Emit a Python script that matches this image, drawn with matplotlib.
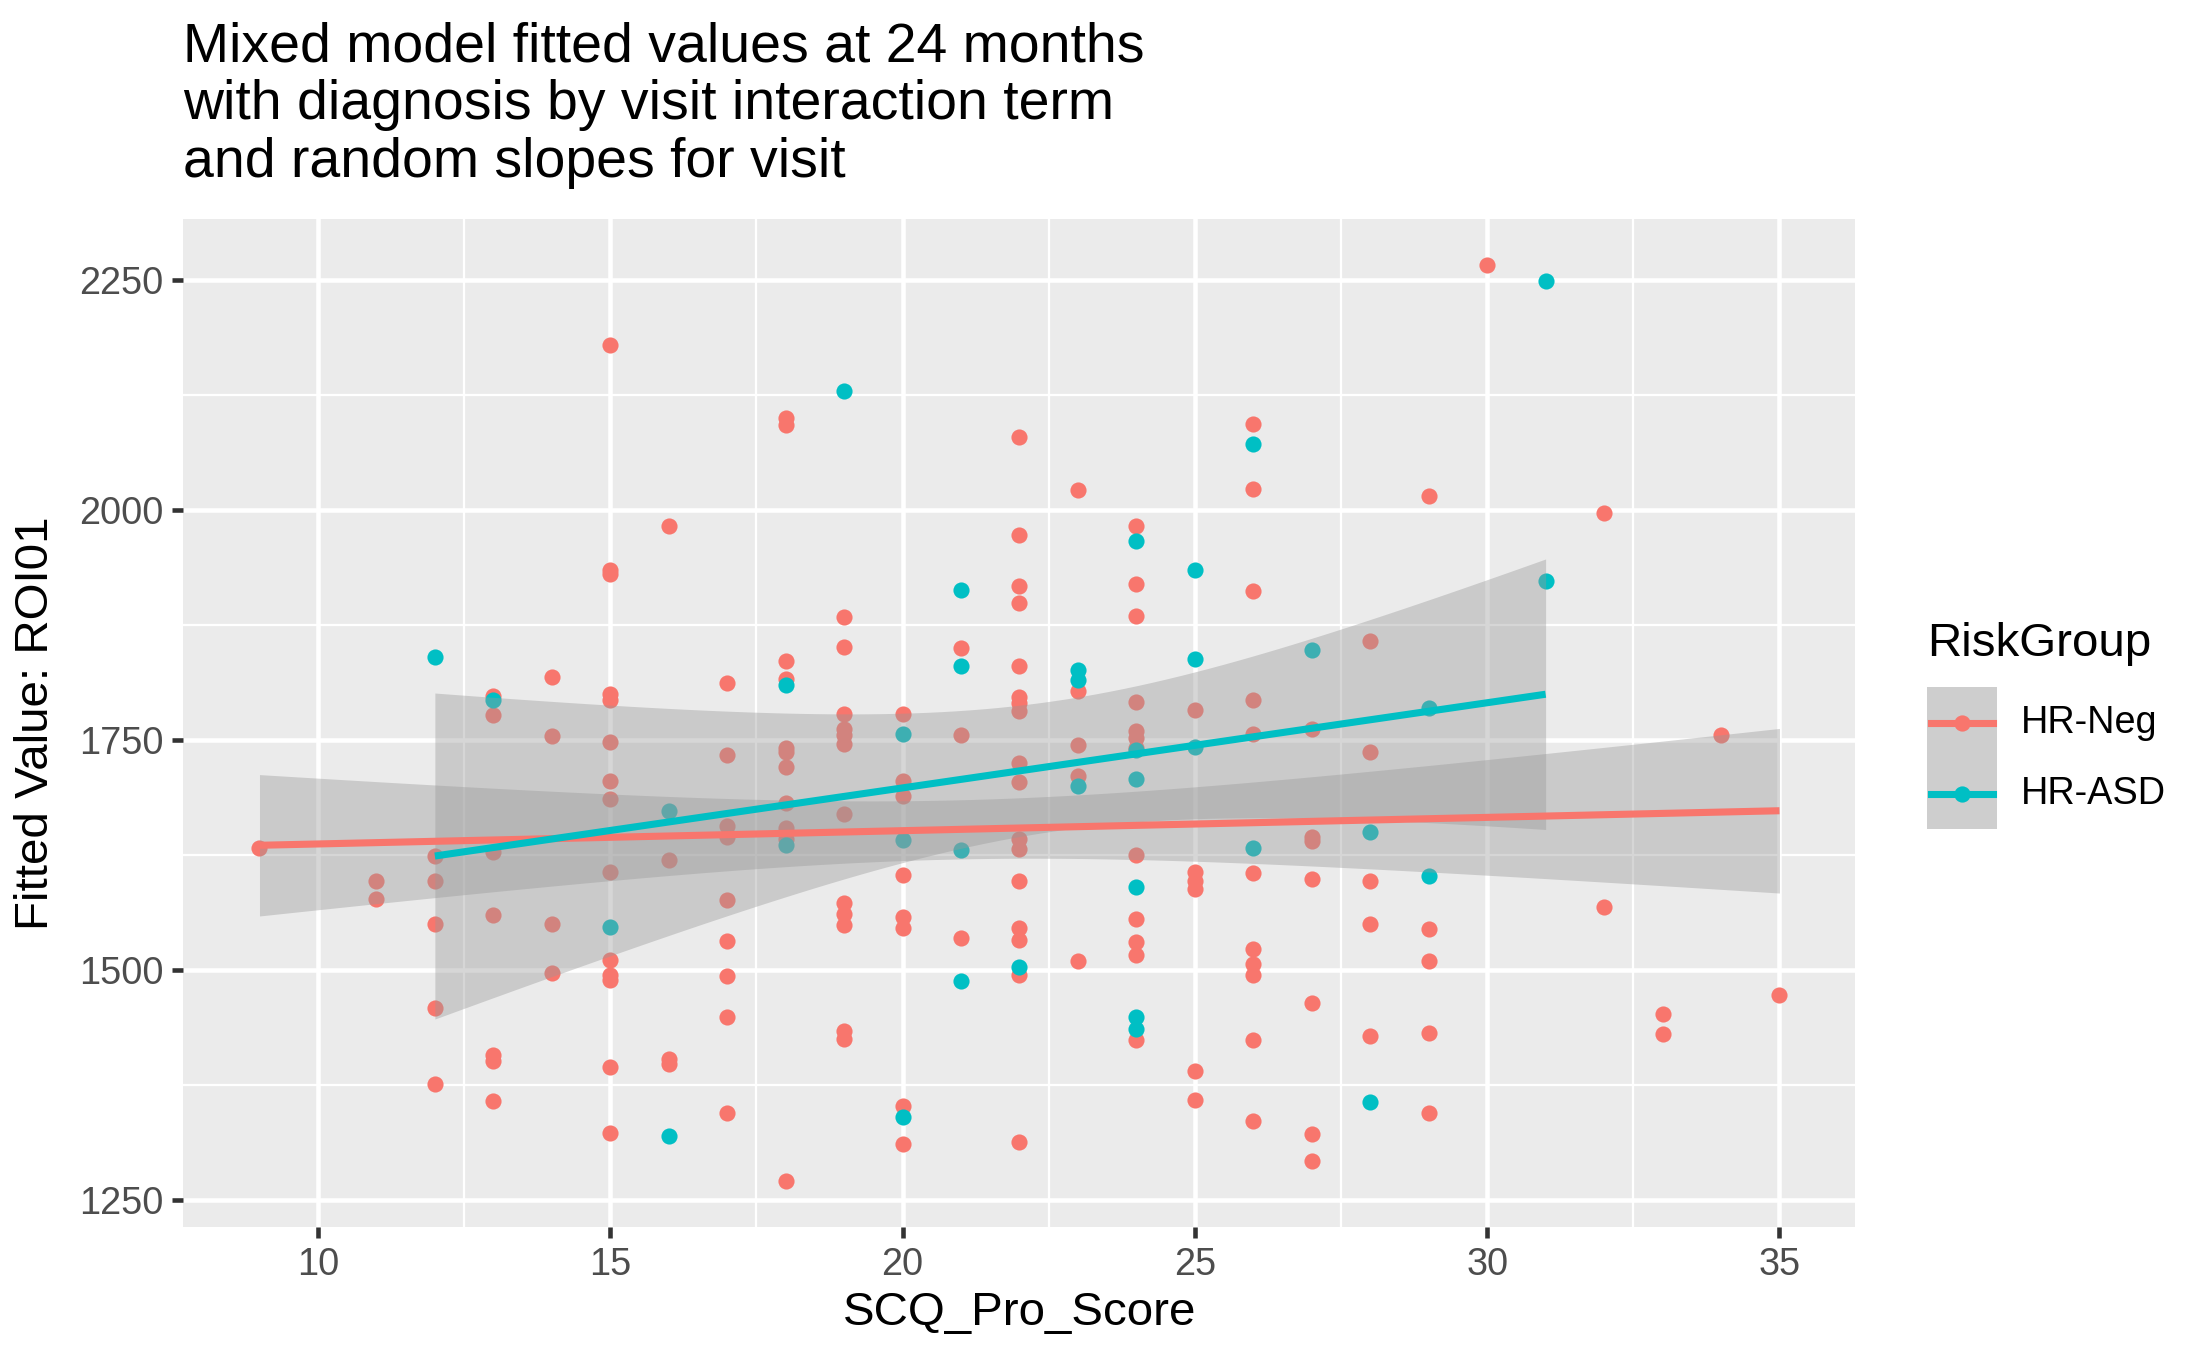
import numpy as np
import matplotlib
matplotlib.use("Agg")
import matplotlib.pyplot as plt
from matplotlib.patches import Rectangle
from matplotlib.lines import Line2D

plt.rcParams['font.family'] = ['Liberation Sans', 'DejaVu Sans']

title = "Mixed model fitted values at 24 months\nwith diagnosis by visit interaction term\nand random slopes for visit"
x_label = "SCQ_Pro_Score"
y_label = "Fitted Value: ROI01"
legend_title = "RiskGroup"
groups = ["HR-Neg", "HR-ASD"]
colors = ["#F8766D", "#00BFC4"]

# HR-Neg points: (score, fitted value)
neg_x = ([9] + [11]*2 + [12]*5 + [13]*7 + [14]*4 + [15]*14 + [16]*4 + [17]*9 + [18]*11 +
         [19]*12 + [20]*8 + [21]*3 + [22]*17 + [23]*5 + [24]*12 + [25]*6 + [26]*11 +
         [27]*7 + [28]*5 + [29]*5 + [30] + [32]*2 + [33]*2 + [34] + [35])
neg_y = [1633,
         1597, 1577,
         1624, 1597, 1550, 1459, 1376,
         1798, 1777, 1628, 1560, 1407, 1401, 1358,
         1818, 1754, 1550, 1497,
         2180, 1935, 1930, 1800, 1794, 1748, 1705, 1686, 1607, 1511, 1494, 1489, 1394, 1323,
         1983, 1619, 1403, 1398,
         1812, 1734, 1657, 1644, 1576, 1531, 1493, 1449, 1344,
         2100, 2092, 1836, 1816, 1741, 1737, 1721, 1682, 1654, 1642, 1270,
         1884, 1851, 1778, 1762, 1755, 1746, 1670, 1573, 1561, 1549, 1434, 1425,
         1778, 1705, 1689, 1603, 1558, 1546, 1352, 1311,
         1850, 1755, 1535,
         2079, 1973, 1917, 1899, 1831, 1797, 1790, 1782, 1725, 1704, 1642, 1632, 1597, 1546, 1533, 1494, 1313,
         2022, 1803, 1745, 1711, 1510,
         1983, 1920, 1885, 1791, 1760, 1752, 1741, 1625, 1555, 1530, 1516, 1424,
         1783, 1606, 1597, 1588, 1390, 1359,
         2094, 2023, 1912, 1793, 1756, 1605, 1523, 1506, 1494, 1424, 1336,
         1762, 1645, 1640, 1599, 1464, 1322, 1292,
         1858, 1737, 1597, 1550, 1428,
         2015, 1544, 1510, 1431, 1344,
         2267,
         1997, 1568,
         1452, 1430,
         1755,
         1473]

# HR-ASD points
asd_x = ([12] + [13] + [15] + [16]*2 + [18]*2 + [19] + [20]*3 + [21]*4 + [22] + [23]*3 +
         [24]*6 + [25]*3 + [26]*2 + [27] + [28]*2 + [29]*2 + [31]*2)
asd_y = [1840,
         1793,
         1547,
         1673, 1319,
         1810, 1636,
         2129,
         1757, 1641, 1340,
         1913, 1831, 1630, 1488,
         1503,
         1826, 1815, 1700,
         1966, 1739, 1708, 1590, 1449, 1436,
         1935, 1838, 1742,
         2072, 1633,
         1848,
         1650, 1356,
         1785, 1602,
         2249, 1923]

x_ticks = [10, 15, 20, 25, 30, 35]
y_ticks = [1250, 1500, 1750, 2000, 2250]


def t975(df):
    z = 1.959964
    return (z + (z**3 + z) / (4 * df) + (5 * z**5 + 16 * z**3 + 3 * z) / (96 * df**2)
            + (3 * z**7 + 19 * z**5 + 17 * z**3 - 15 * z) / (384 * df**3))


def lm_band(x, y):
    x = np.asarray(x, float)
    y = np.asarray(y, float)
    n = len(x)
    b1, b0 = np.polyfit(x, y, 1)
    resid = y - (b0 + b1 * x)
    s = np.sqrt(np.sum(resid**2) / (n - 2))
    xbar = x.mean()
    sxx = np.sum((x - xbar)**2)
    xs = np.linspace(x.min(), x.max(), 80)
    yh = b0 + b1 * xs
    se = s * np.sqrt(1 / n + (xs - xbar)**2 / sxx)
    t = t975(n - 2)
    return xs, yh, yh - t * se, yh + t * se


W, H = 2187, 1350
fig = plt.figure(figsize=(W / 300, H / 300), dpi=300)
ax = fig.add_axes([0.0839, 0.0909, 0.7645, 0.7471])
ax.set_facecolor("#EBEBEB")

data = [(neg_x, neg_y), (asd_x, asd_y)]
for (gx, gy), c in zip(data, colors):
    ax.scatter(gx, gy, s=15, color=c, linewidths=0, zorder=3)

for (gx, gy), c in zip(data, colors):
    xs, yh, lo, hi = lm_band(gx, gy)
    ax.fill_between(xs, lo, hi, color="#999999", alpha=0.4, linewidth=0, zorder=4)
    ax.plot(xs, yh, color=c, lw=1.7, zorder=5, solid_capstyle="butt")

allx = np.array(neg_x + asd_x, float)
ally = np.array(neg_y + asd_y, float)
xr = allx.max() - allx.min()
yr = ally.max() - ally.min()
ax.set_xlim(allx.min() - 0.05 * xr, allx.max() + 0.05 * xr)
ax.set_ylim(ally.min() - 0.05 * yr, ally.max() + 0.05 * yr)

ax.set_xticks(x_ticks)
ax.set_yticks(y_ticks)
ax.set_xticks([12.5, 17.5, 22.5, 27.5, 32.5], minor=True)
ax.set_yticks([1375, 1625, 1875, 2125], minor=True)
ax.grid(which="major", color="white", lw=1.1, zorder=0)
ax.grid(which="minor", color="white", lw=0.55, zorder=0)
ax.set_axisbelow(True)
for sp in ax.spines.values():
    sp.set_visible(False)
ax.tick_params(which="major", length=2.75, width=1.1, color="#333333",
               labelsize=9.1, labelcolor="#4D4D4D", pad=2)
ax.tick_params(which="minor", length=0)

ax.set_xlabel(x_label, fontsize=11.4, labelpad=2)
ax.set_ylabel(y_label, fontsize=11.4, labelpad=5)

fig.text(0.0839, 0.984, title, fontsize=13.3, va="top", ha="left", linespacing=1.14)

# legend
fig.text(0.881, 0.523, legend_title, fontsize=11.4, va="center", ha="left")
key_w = 50 / 1550
key_h = 50.5 / 957
x0 = 0.881
ytop = 1 - 487 / 957
for i, (g, c) in enumerate(zip(groups, colors)):
    yb = ytop - (i + 1) * key_h
    fig.add_artist(Rectangle((x0, yb), key_w, key_h, transform=fig.transFigure,
                             facecolor="#F2F2F2", edgecolor="none"))
    fig.add_artist(Rectangle((x0, yb), key_w, key_h, transform=fig.transFigure,
                             facecolor="#999999", alpha=0.4, edgecolor="none"))
    ym = yb + key_h / 2
    fig.add_artist(Line2D([x0 + 0.002, x0 + key_w - 0.002], [ym, ym], transform=fig.transFigure,
                          color=c, lw=1.7))
    fig.add_artist(Line2D([x0 + key_w / 2], [ym], transform=fig.transFigure,
                          marker="o", markersize=3.9, color=c, markeredgewidth=0))
    fig.text(x0 + key_w + 0.011, ym, g, fontsize=9.1, va="center", ha="left")

fig.savefig("out.png", dpi=300)
